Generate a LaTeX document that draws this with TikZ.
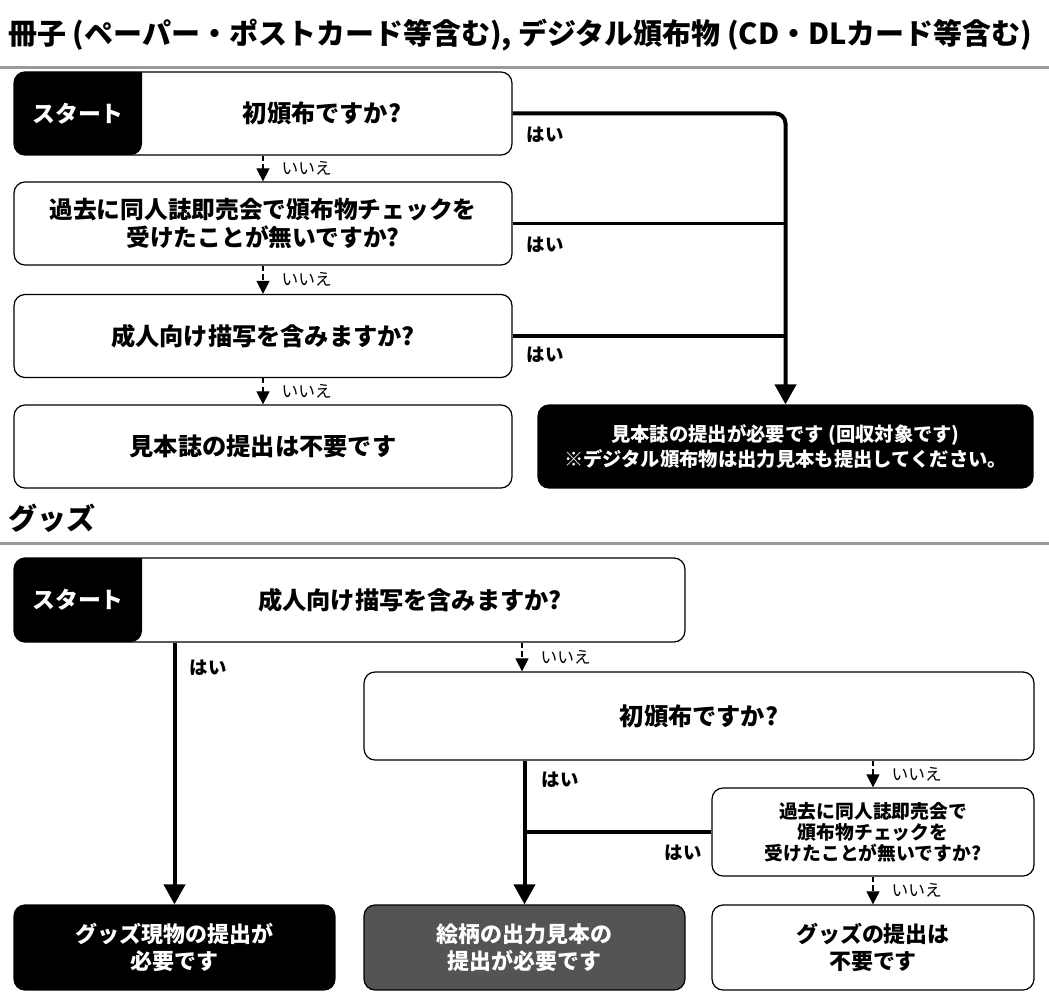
\documentclass[tikz,border=0pt]{standalone}
\usepackage{fontspec}
\setmainfont{Noto Sans CJK JP}
\usetikzlibrary{arrows.meta,positioning,calc}

\begin{document}
\begin{tikzpicture}[x=0.02cm,y=-0.02cm,
    box/.style={draw,line width=0.7pt,rounded corners=0.22cm,align=center,font=\bfseries\fontsize{13.8}{16}\selectfont},
    dark/.style={box,fill=black,text=white},
    flow/.style={line width=0.08cm,-{Triangle[width=0.42cm,length=0.4cm]}},
    no/.style={line width=0.6pt,densely dashed,-{Triangle[width=0.26cm,length=0.26cm]}},
    yes/.style={font=\bfseries\fontsize{10.5}{12}\selectfont},
    nolabel/.style={font=\fontsize{9.5}{12}\selectfont,right=7pt},
    start/.style={text=white,font=\bfseries\fontsize{13}{15}\selectfont},
    hd/.style={font=\bfseries\fontsize{16.5}{19}\selectfont,anchor=west}]
  \useasboundingbox (0,0) rectangle (1049,1007);

  % headings
  \node[hd] (h1) at (2,35) {冊子 (ペーパー・ポストカード等含む), デジタル頒布物 (CD・DLカード等含む)};
  \draw[gray!80,line width=0.06cm] (0,68) -- (1049,68);
  \node[hd] (h2) at (2,518) {グッズ};
  \draw[gray!80,line width=0.06cm] (0,543) -- (1049,543);

  % booklets
  \node[box,minimum width=9.96cm,minimum height=1.66cm] (q1) at (263,113.5) {};
  \fill[rounded corners=0.22cm] (142,72) -- (14,72) -- (14,155) -- (142,155) [sharp corners] -- cycle;
  \node[start] (s1) at (78,113.5) {スタート};
  \node[box,draw=none] (t1) at (322,113.5) {初頒布ですか?};
  \node[box,minimum width=9.96cm,minimum height=1.66cm,font=\bfseries\fontsize{13.5}{16}\selectfont] (q2) at (263,223.5) {過去に同人誌即売会で頒布物チェックを\\受けたことが無いですか?};
  \node[box,minimum width=9.96cm,minimum height=1.66cm] (q3) at (263,336) {成人向け描写を含みますか?};
  \node[box,minimum width=9.96cm,minimum height=1.66cm] (free) at (263,446.5) {見本誌の提出は不要です};
  \node[dark,minimum width=9.9cm,minimum height=1.66cm,font=\bfseries\fontsize{11}{14}\selectfont] (must) at (785.5,446.5) {見本誌の提出が必要です (回収対象です)\\※デジタル頒布物は出力見本も提出してください。};

  \draw[flow,rounded corners=0.2cm] (q1.east) -| (must.north);
  \draw[line width=0.08cm] (q2.east) -- (q2.east -| must.north);
  \draw[line width=0.08cm] (q3.east) -- (q3.east -| must.north);
  \node[yes] at (545,135) {はい};
  \node[yes] at (545,245) {はい};
  \node[yes] at (545,355) {はい};

  \draw[no] (q1.south) -- (q2.north) node[nolabel,midway] {いいえ};
  \draw[no] (q2.south) -- (q3.north) node[nolabel,midway] {いいえ};
  \draw[no] (q3.south) -- (free.north) node[nolabel,midway] {いいえ};

  % goods
  \node[box,minimum width=13.42cm,minimum height=1.68cm] (g1) at (349.5,600) {};
  \fill[rounded corners=0.22cm] (142,558) -- (14,558) -- (14,642) -- (142,642) [sharp corners] -- cycle;
  \node[start] (s2) at (78,600) {スタート};
  \node[box,draw=none] (t2) at (410,600) {成人向け描写を含みますか?};
  \node[box,minimum width=13.4cm,minimum height=1.76cm] (g2) at (699,716) {初頒布ですか?};
  \node[box,minimum width=6.44cm,minimum height=1.76cm,font=\bfseries\fontsize{10.7}{12}\selectfont] (g3) at (873,832) {過去に同人誌即売会で\\頒布物チェックを\\受けたことが無いですか?};
  \node[dark,minimum width=6.42cm,minimum height=1.7cm,font=\bfseries\fontsize{12.5}{15.5}\selectfont] (real) at (174.5,947.5) {グッズ現物の提出が\\必要です};
  \node[box,fill=black!67,text=white,minimum width=6.42cm,minimum height=1.7cm,font=\bfseries\fontsize{12.5}{15.5}\selectfont] (sample) at (524.5,947.5) {絵柄の出力見本の\\提出が必要です};
  \node[box,minimum width=6.44cm,minimum height=1.7cm,font=\bfseries\fontsize{12.5}{15.5}\selectfont] (gfree) at (873,947.5) {グッズの提出は\\不要です};

  \draw[flow] (g1.south -| real.north) -- (real.north);
  \node[yes] at (208,668) {はい};
  \draw[flow] (g2.south -| sample.north) -- (sample.north);
  \node[yes] at (560,780) {はい};
  \draw[line width=0.08cm] (g3.west) -- (g3.west -| sample.north);
  \node[yes] at (683,853) {はい};

  \draw[no] (g1.south -| 522,0) -- (g2.north -| 522,0) node[nolabel,midway] {いいえ};
  \draw[no] (g2.south -| g3.north) -- (g3.north) node[nolabel,midway] {いいえ};
  \draw[no] (g3.south) -- (gfree.north) node[nolabel,midway] {いいえ};
\end{tikzpicture}
\end{document}
